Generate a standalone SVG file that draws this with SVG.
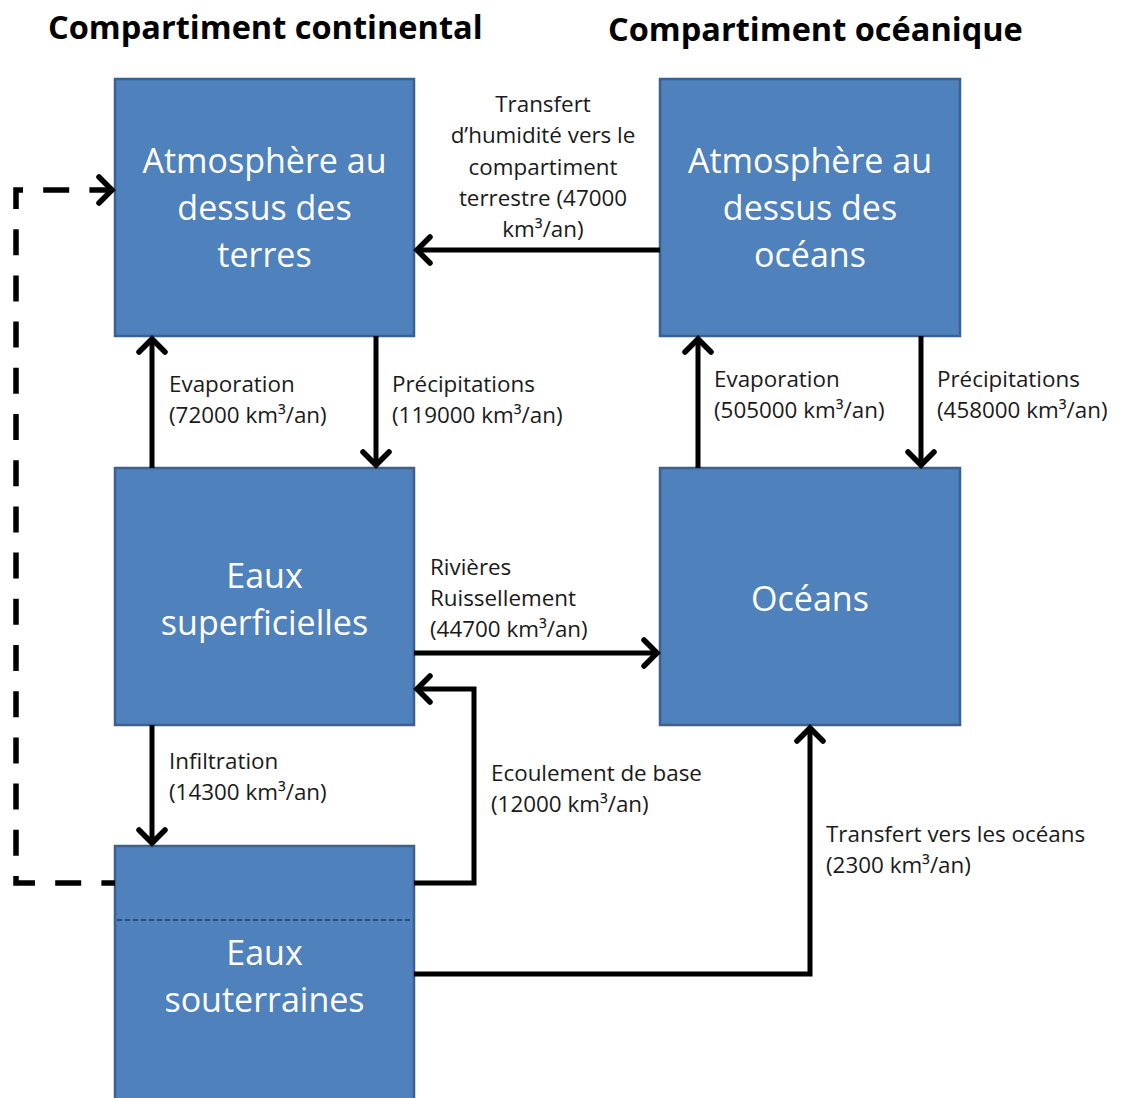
<svg xmlns="http://www.w3.org/2000/svg" width="1122" height="1098" viewBox="0 0 1122 1098">
<defs>
<style>
.box{fill:#4f81bd;stroke:#3a6190;stroke-width:2.5}
.bt{font-family:"Open Sans","Noto Sans",sans-serif;font-size:34px;fill:#ffffff;text-anchor:middle}
.lb{font-family:"Open Sans","Noto Sans",sans-serif;font-size:22.4px;fill:#1a1a1a}
.lbc{font-family:"Open Sans","Noto Sans",sans-serif;font-size:22.4px;fill:#1a1a1a;text-anchor:middle}
.tt{font-family:"Open Sans","Noto Sans",sans-serif;font-size:32.5px;font-weight:bold;fill:#000000}
.cn{fill:none;stroke:#000;stroke-width:5;stroke-linejoin:miter}
.dash{fill:none;stroke:#000;stroke-width:5.5;stroke-dasharray:26 20.2;stroke-dashoffset:12.4}
</style>
<marker id="ah" markerUnits="userSpaceOnUse" markerWidth="30" markerHeight="34" viewBox="-16 -17 20 34" refX="1" refY="0" orient="auto" overflow="visible">
<path d="M -13,-13 L 0,0 L -13,13" fill="none" stroke="#000" stroke-width="5.5" stroke-linecap="round"/>
</marker>
</defs>
<rect width="1122" height="1098" fill="#ffffff"/>
<text class="tt" x="48" y="39">Compartiment continental</text>
<text class="tt" x="608" y="41">Compartiment océanique</text>

<g id="atm-terres">
<rect class="box" x="115" y="79" width="299" height="257"/>
<text class="bt" x="264.5" y="173">Atmosphère au</text>
<text class="bt" x="264.5" y="220">dessus des</text>
<text class="bt" x="264.5" y="267">terres</text>
</g>
<g id="atm-oceans">
<rect class="box" x="660" y="79" width="300" height="257"/>
<text class="bt" x="810" y="173">Atmosphère au</text>
<text class="bt" x="810" y="220">dessus des</text>
<text class="bt" x="810" y="267">océans</text>
</g>
<g id="eaux-sup">
<rect class="box" x="115" y="468" width="299" height="257"/>
<text class="bt" x="264.5" y="588">Eaux</text>
<text class="bt" x="264.5" y="635">superficielles</text>
</g>
<g id="oceans">
<rect class="box" x="660" y="468" width="300" height="257"/>
<text class="bt" x="810" y="611">Océans</text>
</g>
<g id="eaux-sout">
<rect class="box" x="115" y="846" width="299" height="262"/>
<line x1="117" y1="920" x2="412" y2="920" stroke="#1f3a60" stroke-width="1.5" stroke-dasharray="5 3"/>
<text class="bt" x="264.5" y="965">Eaux</text>
<text class="bt" x="264.5" y="1012">souterraines</text>
</g>

<g id="connectors">
<line class="cn" x1="660" y1="250" x2="416" y2="250" marker-end="url(#ah)"/>
<line class="cn" x1="152" y1="468" x2="152" y2="338" marker-end="url(#ah)"/>
<line class="cn" x1="376" y1="336" x2="376" y2="466" marker-end="url(#ah)"/>
<line class="cn" x1="698" y1="468" x2="698" y2="338" marker-end="url(#ah)"/>
<line class="cn" x1="921" y1="336" x2="921" y2="466" marker-end="url(#ah)"/>
<line class="cn" x1="414" y1="653" x2="658" y2="653" marker-end="url(#ah)"/>
<polyline class="cn" points="414,883 474,883 474,689 416,689" marker-end="url(#ah)"/>
<line class="cn" x1="152" y1="725" x2="152" y2="844" marker-end="url(#ah)"/>
<polyline class="cn" points="414,974 810,974 810,727" marker-end="url(#ah)"/>
<polyline class="dash" points="115,883 16,883 16,190 113,190" marker-end="url(#ah)"/>
</g>

<g id="labels">
<text class="lbc" x="543" y="112">Transfert</text>
<text class="lbc" x="543" y="143">d’humidité vers le</text>
<text class="lbc" x="543" y="175">compartiment</text>
<text class="lbc" x="543" y="206">terrestre (47000</text>
<text class="lbc" x="543" y="237">km³/an)</text>
<text class="lb" x="169" y="392">Evaporation</text>
<text class="lb" x="169" y="423">(72000 km³/an)</text>
<text class="lb" x="392" y="392">Précipitations</text>
<text class="lb" x="392" y="423">(119000 km³/an)</text>
<text class="lb" x="714" y="387">Evaporation</text>
<text class="lb" x="714" y="418">(505000 km³/an)</text>
<text class="lb" x="937" y="387">Précipitations</text>
<text class="lb" x="937" y="418">(458000 km³/an)</text>
<text class="lb" x="430" y="575">Rivières</text>
<text class="lb" x="430" y="606">Ruissellement</text>
<text class="lb" x="430" y="637">(44700 km³/an)</text>
<text class="lb" x="169" y="769">Infiltration</text>
<text class="lb" x="169" y="800">(14300 km³/an)</text>
<text class="lb" x="491" y="781">Ecoulement de base</text>
<text class="lb" x="491" y="812">(12000 km³/an)</text>
<text class="lb" x="826" y="842">Transfert vers les océans</text>
<text class="lb" x="826" y="873">(2300 km³/an)</text>
</g>
</svg>
